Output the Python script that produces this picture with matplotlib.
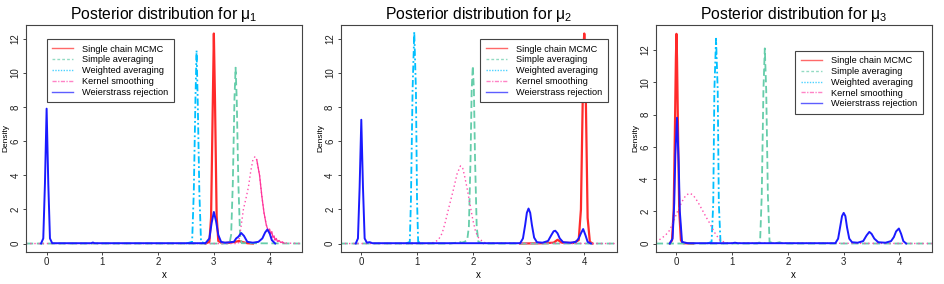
import matplotlib
matplotlib.use('Agg')
import matplotlib.pyplot as plt
from matplotlib.lines import Line2D

plt.rcParams['font.family'] = ['Liberation Sans', 'DejaVu Sans']
plt.rcParams['mathtext.fontset'] = 'custom'
plt.rcParams['mathtext.rm'] = 'Liberation Sans'
plt.rcParams['mathtext.it'] = 'Liberation Sans'

methods = ['Single chain MCMC', 'Simple averaging', 'Weighted averaging',
           'Kernel smoothing', 'Weierstrass rejection']
titles = [r'Posterior distribution for $\mathregular{\mu_1}$',
          r'Posterior distribution for $\mathregular{\mu_2}$',
          r'Posterior distribution for $\mathregular{\mu_3}$']
x_ticks = [0, 1, 2, 3, 4]
y_ticks = [0, 2, 4, 6, 8, 10, 12]

# ---- panel 1 (mu_1) ----
p1_red_x = [2.85, 2.92, 2.95, 2.98, 3.0, 3.02, 3.05, 3.08, 3.14, 3.3, 3.38, 3.45, 3.52, 3.6, 3.7]
p1_red_y = [0, 0.1, 1.5, 8.0, 12.3, 8.5, 1.6, 0.15, 0.03, 0.05, 0.1, 0.15, 0.08, 0.02, 0]
p1_green_x = [-0.37, 3.28, 3.31, 3.34, 3.37, 3.39, 3.41, 3.44, 3.47, 3.5, 4.58]
p1_green_y = [0, 0, 0.5, 3.5, 8.5, 10.3, 8.5, 3.5, 0.5, 0.02, 0]
p1_cyan_x = [2.5, 2.61, 2.64, 2.67, 2.69, 2.71, 2.74, 2.77, 2.85]
p1_cyan_y = [0, 0.1, 3.0, 8.5, 11.3, 8.5, 3.0, 0.1, 0]
p1_pink_x = [-0.37, 3.44, 3.48, 3.53, 3.58, 3.62, 3.66, 3.70, 3.74, 3.77, 3.82, 3.86,
             3.9, 3.94, 3.98, 4.03, 4.1, 4.25, 4.58]
p1_pink_y = [0, 0, 0.8, 2.0, 2.7, 3.3, 4.2, 4.9, 5.1, 4.9, 4.0, 2.8,
             1.8, 1.1, 0.7, 0.4, 0.2, 0.03, 0]
p1_pink_noise_x = [3.77, 3.82, 3.86, 3.9, 3.94, 3.98, 4.0, 4.02, 4.04, 4.06, 4.08, 4.1,
                   4.12, 4.14, 4.17, 4.2, 4.23, 4.26]
p1_pink_noise_y = [4.9, 4.0, 2.8, 1.8, 1.1, 0.7, 0.85, 0.55, 0.7, 0.35, 0.45, 0.2,
                   0.3, 0.12, 0.18, 0.06, 0.1, 0.02]
p1_blue_x = [-0.1, -0.06, -0.03, 0, 0.03, 0.06, 0.1, 0.8, 0.83, 0.86, 2.85, 2.92, 2.96,
             3.0, 3.04, 3.08, 3.13, 3.2, 3.3, 3.36, 3.4, 3.44, 3.49, 3.54, 3.6, 3.7, 3.8,
             3.87, 3.92, 3.96, 4.0, 4.04, 4.1]
p1_blue_y = [0, 0.3, 3.5, 7.9, 3.5, 0.3, 0.02, 0.02, 0.06, 0.02, 0.02, 0.3, 1.2,
             1.85, 1.3, 0.5, 0.1, 0.05, 0.08, 0.1, 0.3, 0.4, 0.62, 0.45, 0.1, 0.05, 0.1,
             0.3, 0.65, 0.82, 0.6, 0.2, 0]

# ---- panel 2 (mu_2) ----
p2_red_x = [2.85, 3.3, 3.45, 3.52, 3.6, 3.8, 3.9, 3.94, 3.97, 3.99, 4.0, 4.01, 4.03,
            4.06, 4.1, 4.15]
p2_red_y = [0, 0.02, 0.05, 0.22, 0.05, 0.03, 0.2, 2.0, 8.0, 11.8, 12.3, 11.8, 8.0,
            1.5, 0.1, 0]
p2_green_x = [-0.37, 1.6, 1.7, 1.75, 1.8, 1.85, 1.9, 1.93, 1.96, 1.98, 2.0, 2.02, 2.04,
              2.07, 2.1, 2.2, 4.58]
p2_green_y = [0, 0, 0.05, 0.12, 0.05, 0.1, 0.2, 1.0, 5.0, 9.0, 10.4, 9.0, 5.0,
              1.0, 0.1, 0, 0]
p2_cyan_x = [0.8, 0.87, 0.89, 0.92, 0.95, 0.98, 1.0, 1.02, 1.1]
p2_cyan_y = [0, 0.1, 2.5, 9.0, 12.4, 9.0, 2.5, 0.1, 0]
p2_pink_x = [-0.37, 1.25, 1.38, 1.45, 1.5, 1.57, 1.65, 1.72, 1.78, 1.82, 1.85, 1.9,
             1.95, 2.0, 2.05, 2.1, 2.18, 2.25, 4.58]
p2_pink_y = [0, 0, 0.2, 0.6, 1.17, 2.1, 3.13, 4.1, 4.55, 4.4, 4.0, 3.2,
             2.3, 1.4, 0.7, 0.35, 0.1, 0.02, 0]
p2_blue_x = [-0.1, -0.06, -0.03, 0, 0.03, 0.06, 0.1, 0.15, 0.2, 2.85, 2.9, 2.94, 2.97,
             3.0, 3.03, 3.06, 3.1, 3.15, 3.25, 3.35, 3.41, 3.45, 3.48, 3.52, 3.56, 3.62,
             3.75, 3.85, 3.9, 3.94, 3.98, 4.02, 4.06, 4.12]
p2_blue_y = [0, 0.3, 3.3, 7.25, 3.3, 0.3, 0.05, 0.08, 0.02, 0.02, 0.3, 1.1, 1.8,
             2.05, 1.8, 1.1, 0.35, 0.08, 0.05, 0.15, 0.5, 0.72, 0.75, 0.6, 0.3, 0.08,
             0.05, 0.1, 0.3, 0.6, 0.85, 0.5, 0.1, 0]

# ---- panel 3 (mu_3) ----
p3_red_x = [-0.12, -0.08, -0.05, -0.03, -0.01, 0.0, 0.01, 0.03, 0.05, 0.08, 0.12, 0.3]
p3_red_y = [0, 0.2, 2.0, 6.5, 11.5, 13.0, 11.5, 6.5, 2.0, 0.2, 0.02, 0]
p3_green_x = [-0.37, 1.45, 1.5, 1.53, 1.56, 1.585, 1.61, 1.64, 1.67, 1.75, 1.85, 1.9,
              2.0, 4.58]
p3_green_y = [0, 0, 0.1, 3.0, 9.5, 12.1, 9.5, 3.0, 0.1, 0, 0.08, 0.02, 0, 0]
p3_cyan_x = [0.55, 0.63, 0.66, 0.68, 0.71, 0.74, 0.76, 0.79, 0.85]
p3_cyan_y = [0, 0.1, 2.5, 9.5, 12.7, 9.5, 2.5, 0.1, 0]
p3_pink_x = [-0.37, -0.3, -0.2, -0.12, -0.05, 0.02, 0.1, 0.17, 0.24, 0.3, 0.38, 0.46,
             0.53, 0.6, 0.68, 0.78, 0.9, 4.58]
p3_pink_y = [0.1, 0.25, 0.5, 0.83, 1.4, 2.0, 2.6, 3.0, 3.12, 3.0, 2.6, 2.1,
             1.65, 1.24, 0.7, 0.2, 0.03, 0]
p3_blue_x = [-0.12, -0.07, -0.04, -0.02, 0.01, 0.04, 0.06, 0.1, 0.2, 1.0, 1.05, 1.1,
             2.85, 2.9, 2.94, 2.97, 3.0, 3.03, 3.06, 3.1, 3.15, 3.25, 3.35, 3.41, 3.46,
             3.5, 3.55, 3.62, 3.75, 3.85, 3.9, 3.94, 3.99, 4.03, 4.07, 4.12]
p3_blue_y = [0, 0.3, 2.5, 5.5, 7.8, 5.0, 2.0, 0.1, 0.02, 0.02, 0.05, 0.02,
             0.02, 0.3, 1.1, 1.7, 1.9, 1.7, 1.0, 0.3, 0.08, 0.05, 0.15, 0.5, 0.72,
             0.6, 0.3, 0.08, 0.05, 0.15, 0.4, 0.75, 0.93, 0.6, 0.15, 0]

colors = ['#ff2a2a', '#66cdaa', '#00bfff', '#ff4fae', '#1a1aff']
plot_styles = ['-', (0, (4, 2)), (0, (4, 1.5, 1, 1.5)), (0, (1, 2)), '-']
plot_widths = [1.6, 1.3, 1.3, 1.0, 1.4]
legend_styles = ['-', (0, (2, 1.5)), (0, (1, 1)), (0, (3, 1, 1, 1)), '-']

panels = [
    [(p1_red_x, p1_red_y), (p1_green_x, p1_green_y), (p1_cyan_x, p1_cyan_y),
     (p1_pink_x, p1_pink_y), (p1_blue_x, p1_blue_y)],
    [(p2_red_x, p2_red_y), (p2_green_x, p2_green_y), (p2_cyan_x, p2_cyan_y),
     (p2_pink_x, p2_pink_y), (p2_blue_x, p2_blue_y)],
    [(p3_red_x, p3_red_y), (p3_green_x, p3_green_y), (p3_cyan_x, p3_cyan_y),
     (p3_pink_x, p3_pink_y), (p3_blue_x, p3_blue_y)],
]
ylims = [(-0.49, 12.8), (-0.49, 12.8), (-0.52, 13.55)]
legend_loc = [('upper left', (0.075, 0.938)), ('upper right', (0.967, 0.938)),
              ('upper right', (0.967, 0.887))]
lefts = [0.0275, 0.3605, 0.694]

fig = plt.figure(figsize=(9.45, 2.84), dpi=100)
frame_col = '#444444'

for i in range(3):
    ax = fig.add_axes([lefts[i], 0.113, 0.292, 0.799])
    for k, (xs, ys) in enumerate(panels[i]):
        ax.plot(xs, ys, color=colors[k], linestyle=plot_styles[k], lw=plot_widths[k])
        if i == 0 and k == 3:
            # jagged right side of the kernel smoothing estimate
            ax.plot(p1_pink_noise_x, p1_pink_noise_y, color='#ff3399', lw=0.9)
    ax.set_xlim(-0.37, 4.58)
    ax.set_ylim(*ylims[i])
    ax.set_xticks(x_ticks)
    ax.set_yticks(y_ticks)
    ax.tick_params(labelsize=7, length=2.5, width=0.7, color=frame_col,
                   labelcolor='#222222', pad=1.5)
    for lab in ax.get_yticklabels():
        lab.set_rotation(90)
        lab.set_va('center')
    for s in ax.spines.values():
        s.set_color(frame_col)
        s.set_linewidth(0.8)
    ax.set_xlabel('x', fontsize=7, labelpad=2)
    ax.set_ylabel('Density', fontsize=6)
    ax.yaxis.set_label_coords(-0.06, 0.5)
    ax.set_title(titles[i], fontsize=11.3, pad=4)

    handles = [Line2D([], [], color=colors[k], linestyle=legend_styles[k], lw=1.0,
                      alpha=0.7) for k in range(5)]
    loc, anchor = legend_loc[i]
    leg = ax.legend(handles, methods, loc=loc, bbox_to_anchor=anchor, borderaxespad=0,
                    fontsize=6.6, frameon=True, fancybox=False, framealpha=1,
                    handlelength=2.3, handletextpad=1.0, labelspacing=0.2,
                    borderpad=0.6)
    leg.get_frame().set_edgecolor(frame_col)
    leg.get_frame().set_linewidth(0.8)

fig.savefig('out.png', dpi=100)
